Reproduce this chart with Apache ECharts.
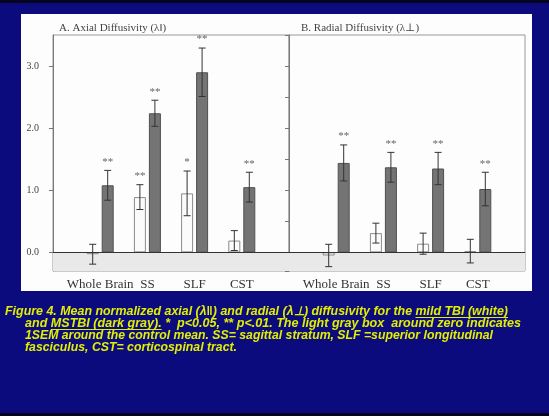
<!DOCTYPE html>
<html>
<head>
<meta charset="utf-8">
<script src="https://cdn.jsdelivr.net/npm/echarts@6/dist/echarts.min.js"></script>
<style>
  html, body { margin: 0; padding: 0; background: #0b0b7e; }
  #chart { width: 549px; height: 416px; }
</style>
</head>
<body>
<div id="chart"></div>
<script>
// categories (blank slots at both ends keep the groups off the axes)
const categories = ['', 'Whole Brain', 'SS', 'SLF', 'CST', ''];

// A. axial diffusivity
const axialMild = [-0.03, 0.89, 0.95, 0.19];
const axialMildSem = [0.16, 0.2, 0.36, 0.16];
const axialMildStars = ['', '**', '*', ''];
const axialMs = [1.08, 2.24, 2.9, 1.05];
const axialMsSem = [0.24, 0.21, 0.39, 0.24];
const axialMsStars = ['**', '**', '**', '**'];

// B. radial diffusivity
const radialMild = [-0.05, 0.31, 0.14, 0.02];
const radialMildSem = [0.18, 0.16, 0.17, 0.19];
const radialMildStars = ['', '', '', ''];
const radialMs = [1.44, 1.37, 1.35, 1.02];
const radialMsSem = [0.29, 0.24, 0.26, 0.27];
const radialMsStars = ['**', '**', '**', '**'];

const captionLines = [
  'Figure 4. Mean normalized axial (\u03bb\u2016) and radial (\u03bb\u22a5) diffusivity for the mild TBI (white)',
  'and MSTBI (dark gray). *  p<0.05, ** p<.01. The light gray box  around zero indicates',
  '1SEM around the control mean. SS= sagittal stratum, SLF =superior longitudinal',
  'fasciculus, CST= corticospinal tract.'
];
// parts of the caption that are underlined
const captionUnderlined = ['mild TBI (white)', 'MSTBI (dark gray).', '', ''];

const serif = "'Liberation Serif', 'DejaVu Serif', serif";
const capFont = "italic bold 12px 'Liberation Sans', Arial, sans-serif";
const capColor = '#e2ef00';
const capX = [5, 25, 25, 25];
const capWidth = [503, 496, 468, 212];

const chart = echarts.init(document.getElementById('chart'));

// squeeze caption lines to the narrow look of the original
const ctx = document.createElement('canvas').getContext('2d');
ctx.font = capFont;
const capGraphics = [];
captionLines.forEach((t, i) => {
  const s = capWidth[i] / ctx.measureText(t).width;
  const y = 306 + i * 12;
  capGraphics.push({
    type: 'text', z: 10, x: capX[i], y: y, scaleX: s,
    style: { text: t, fill: capColor, font: capFont }
  });
  const u = captionUnderlined[i];
  if (u) {
    const k = t.indexOf(u);
    const x1 = capX[i] + s * ctx.measureText(t.slice(0, k)).width;
    const x2 = capX[i] + s * ctx.measureText(t.slice(0, k + u.length)).width;
    capGraphics.push({
      type: 'line', z: 10,
      shape: { x1: x1, y1: y + 11.5, x2: x2, y2: y + 11.5 },
      style: { stroke: capColor, lineWidth: 1 }
    });
  }
});

function barSeries(vals, grid, mild) {
  return {
    type: 'bar',
    xAxisIndex: grid, yAxisIndex: grid,
    barWidth: 12,
    barGap: '25%',
    data: vals.map((v, i) => [i + 1, v]),
    itemStyle: mild
      ? { color: '#fbfbfb', borderColor: '#8a8a8a', borderWidth: 1 }
      : { color: '#747474', borderColor: '#505050', borderWidth: 1 },
    z: 3
  };
}

function errSeries(vals, sems, stars, grid, shift) {
  return {
    type: 'custom',
    xAxisIndex: grid, yAxisIndex: grid,
    data: vals.map((v, i) => [i + 1, v - sems[i], v + sems[i]]),
    renderItem: (params, api) => {
      const hi = api.coord([api.value(0), api.value(2)]);
      const lo = api.coord([api.value(0), api.value(1)]);
      const x = hi[0] + shift;
      const cap = 3.5;
      const style = { stroke: '#333', lineWidth: 1 };
      const star = stars[params.dataIndex];
      return {
        type: 'group',
        children: [
          { type: 'line', shape: { x1: x, y1: hi[1], x2: x, y2: lo[1] }, style },
          { type: 'line', shape: { x1: x - cap, y1: hi[1], x2: x + cap, y2: hi[1] }, style },
          { type: 'line', shape: { x1: x - cap, y1: lo[1], x2: x + cap, y2: lo[1] }, style },
          {
            type: 'text',
            style: {
              text: star, x: x, y: hi[1] - 3,
              align: 'center', verticalAlign: 'bottom',
              fill: '#666', font: '11px ' + serif
            }
          }
        ]
      };
    },
    z: 4
  };
}

function zeroSeries(grid) {
  return {
    type: 'line',
    xAxisIndex: grid, yAxisIndex: grid,
    data: [],
    markArea: {
      silent: true,
      itemStyle: { color: '#e9e9e9' },
      data: [[{ yAxis: -0.3 }, { yAxis: 0 }]]
    },
    markLine: {
      silent: true,
      symbol: 'none',
      label: { show: false },
      lineStyle: { color: '#333', width: 1, type: 'solid' },
      data: [{ yAxis: 0 }]
    }
  };
}

function yAxis(grid, labels, split) {
  return {
    gridIndex: grid,
    type: 'value',
    min: -0.3, max: 3.5,
    splitNumber: split,
    axisLine: { show: true, lineStyle: { color: '#777' } },
    axisTick: { show: true, length: 4, lineStyle: { color: '#777' } },
    splitLine: { show: false },
    axisLabel: {
      show: labels,
      showMinLabel: false, showMaxLabel: false,
      color: '#444', fontSize: 10, fontFamily: serif, margin: 14,
      formatter: v => (Math.abs(v - Math.round(v)) < 1e-6 ? v.toFixed(1) : '')
    }
  };
}

function xAxis(grid) {
  return {
    gridIndex: grid,
    type: 'category',
    data: categories,
    boundaryGap: false,
    axisLine: { show: true, lineStyle: { color: '#888' } },
    axisTick: { show: false },
    axisLabel: { color: '#333', fontSize: 13, fontFamily: serif, margin: 7, interval: 0 }
  };
}

chart.setOption({
  backgroundColor: '#0b0b7e',
  animation: false,
  title: [
    { text: 'A. Axial Diffusivity (\u03bb\u2016)', left: 54, top: 18,
      textStyle: { color: '#444', fontSize: 11, fontWeight: 'normal', fontFamily: serif } },
    { text: 'B. Radial Diffusivity (\u03bb\u22a5)', left: 296, top: 18,
      textStyle: { color: '#444', fontSize: 11, fontWeight: 'normal', fontFamily: serif } }
  ],
  grid: [
    { left: 53, top: 35, width: 236, height: 236, show: true, borderColor: '#999', borderWidth: 1, backgroundColor: 'transparent' },
    { left: 289, top: 35, width: 236, height: 236, show: true, borderColor: '#999', borderWidth: 1, backgroundColor: 'transparent' }
  ],
  xAxis: [xAxis(0), xAxis(1)],
  yAxis: [yAxis(0, true, 4), yAxis(1, false, 8)],
  graphic: [
    { type: 'rect', z: -10, shape: { x: 0, y: 0, width: 549, height: 3 }, style: { fill: '#050520' } },
    { type: 'rect', z: -10, shape: { x: 0, y: 413, width: 549, height: 3 }, style: { fill: '#050520' } },
    { type: 'rect', z: -10, shape: { x: 21, y: 14, width: 511, height: 277 }, style: { fill: '#fdfdfd' } },
    ...capGraphics
  ],
  series: [
    zeroSeries(0),
    barSeries(axialMild, 0, true),
    barSeries(axialMs, 0, false),
    errSeries(axialMild, axialMildSem, axialMildStars, 0, -7.5),
    errSeries(axialMs, axialMsSem, axialMsStars, 0, 7.5),
    zeroSeries(1),
    barSeries(radialMild, 1, true),
    barSeries(radialMs, 1, false),
    errSeries(radialMild, radialMildSem, radialMildStars, 1, -7.5),
    errSeries(radialMs, radialMsSem, radialMsStars, 1, 7.5)
  ]
});
</script>
</body>
</html>
